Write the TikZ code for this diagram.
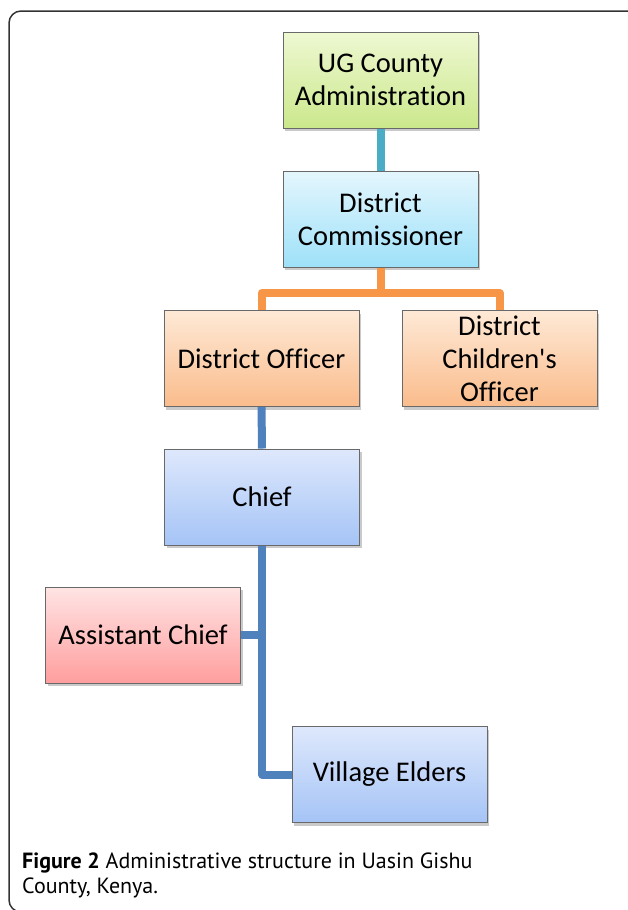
\documentclass[tikz,border=0pt]{standalone}
\usepackage{fontspec}
\setmainfont{Carlito}[Ligatures={NoCommon}]
\newfontfamily\captionfont{PT Sans}
\usetikzlibrary{shadows}
\definecolor{boxgray}{RGB}{105,105,105}
\definecolor{linkteal}{RGB}{75,172,198}
\definecolor{linkorange}{RGB}{247,150,70}
\definecolor{linkblue}{RGB}{79,129,189}
\tikzset{
  org-box/.style={
    draw=boxgray,
    line width=1pt,
    minimum width=195pt,
    minimum height=96pt,
    inner sep=2pt,
    align=center,
    font=\fontsize{28.5}{33}\selectfont,
    drop shadow={shadow xshift=2pt, shadow yshift=-3pt, opacity=0.35, fill=black!60}
  },
  box-green/.style={org-box, top color={rgb,255:red,238;green,248;blue,210}, bottom color={rgb,255:red,203;green,232;blue,140}},
  box-cyan/.style={org-box, top color={rgb,255:red,228;green,246;blue,253}, bottom color={rgb,255:red,158;green,225;blue,249}},
  box-orange/.style={org-box, top color={rgb,255:red,254;green,233;blue,214}, bottom color={rgb,255:red,250;green,188;blue,140}},
  box-red/.style={org-box, top color={rgb,255:red,255;green,228;blue,228}, bottom color={rgb,255:red,255;green,158;blue,158}},
  box-blue/.style={org-box, top color={rgb,255:red,222;green,232;blue,252}, bottom color={rgb,255:red,165;green,196;blue,246}},
  link-line/.style={line width=8pt, line join=round}
}

\begin{document}
\begin{tikzpicture}[x=1pt,y=-1pt]
  \useasboundingbox (0,0) rectangle (627,910);
  % Frame (only left and top show)
  \draw[line width=1.5pt, black!80, rounded corners=12pt] (9,11) rectangle (640,912);

  % Boxes
  \node[box-green]  (ugca)    at (380.5,80)  {UG County\\Administration};
  \node[box-cyan]   (dcom)    at (380.5,219) {District\\Commissioner};
  \node[box-orange] (dofc)    at (261.5,358.5) {District Officer};
  \node[box-orange] (dcho)    at (499.5,358.5) {District\\Children\textquotesingle s\\Officer};
  \node[box-blue]   (chief)   at (262,497)   {Chief};
  \node[box-red]    (achief)  at (143,635)   {Assistant Chief};
  \node[box-blue]   (velders) at (389.5,774.5) {Village Elders};

  % Links
  \coordinate (obar) at (380.5,293);
  \draw[link-line, linkteal] (ugca) -- (dcom);
  \draw[link-line, linkorange] (dcom.south) -- (obar);
  \draw[link-line, linkorange]
    (dofc.north) -- (dofc.north |- obar) -- (dcho.north |- obar) -- (dcho.north);
  \draw[link-line, linkblue] (dofc) -- (chief);
  \draw[link-line, linkblue] (chief.south) |- (velders.west);
  \draw[link-line, linkblue] (achief.east) -- (achief.east -| chief.south);

  % Caption
  \node[anchor=north west, align=left, inner sep=0pt,
    font=\captionfont\fontsize{22}{25}\selectfont] (caption) at (22,853)
    {\textbf{Figure 2} Administrative structure in Uasin Gishu\\County, Kenya.};
\end{tikzpicture}
\end{document}
